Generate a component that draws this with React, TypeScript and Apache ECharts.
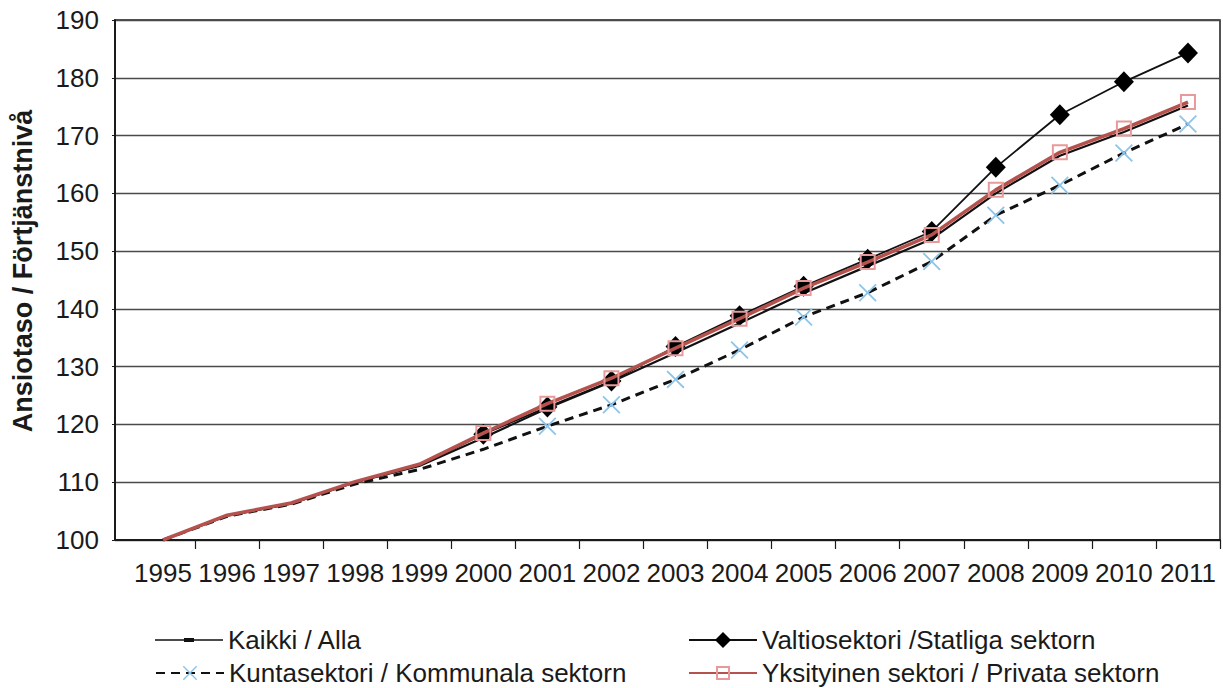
import React, { useEffect, useRef } from "react";
import * as echarts from "echarts";

const years = [1995, 1996, 1997, 1998, 1999, 2000, 2001, 2002, 2003, 2004, 2005, 2006, 2007, 2008, 2009, 2010, 2011];
const kaikki = [100, 104.2, 106.3, 110.0, 112.8, 117.7, 122.8, 127.4, 132.4, 137.5, 142.7, 147.4, 152.1, 160.0, 166.5, 170.6, 175.2];
const valtio = [100, 104.2, 106.3, 110.0, 112.9, 118.3, 123.0, 127.5, 133.5, 138.8, 143.9, 148.6, 153.4, 164.5, 173.6, 179.3, 184.3];
const kunta = [100, 104.1, 106.2, 109.7, 112.2, 115.7, 119.7, 123.4, 127.8, 132.9, 138.6, 142.8, 148.2, 156.2, 161.4, 167.0, 172.0];
const yksityinen = [100, 104.3, 106.4, 110.1, 113.1, 118.5, 123.6, 128.0, 133.2, 138.3, 143.6, 148.1, 152.8, 160.6, 167.1, 171.2, 175.8];
const yTicks = [100, 110, 120, 130, 140, 150, 160, 170, 180, 190];

const names = {
  kaikki: "Kaikki / Alla",
  valtio: "Valtiosektori /Statliga sektorn",
  kunta: "Kuntasektori / Kommunala sektorn",
  yks: "Yksityinen sektori / Privata sektorn",
};
const yTitle = "Ansiotaso / Förtjänstnivå";
const FONT = "'Liberation Sans', Arial, Helvetica, sans-serif";
const CROSS = "path://M0,7L7,0L50,43L93,0L100,7L57,50L100,93L93,100L50,57L7,100L0,93L43,50Z";
const KAIKKI_ICON = "path://M0,1.2L68,1.2L68,2.8L0,2.8ZM29,0L39,0L39,4L29,4Z";

function build(vals: number[], firstMarked: number) {
  return vals.map((v, i) =>
    years[i] < firstMarked ? { value: [years[i], v], symbol: "none" } : { value: [years[i], v] }
  );
}

function legendAt(name: string, left: number, top: number, itemHeight: number, icon?: string) {
  return {
    data: [icon ? { name, icon } : name],
    orient: "horizontal",
    left,
    top,
    itemWidth: 68,
    itemHeight,
    padding: 0,
    textStyle: { fontSize: 26, lineHeight: 26, fontFamily: FONT, color: "#1a1a1a" },
  };
}

export default function App() {
  const ref = useRef<HTMLDivElement>(null);
  useEffect(() => {
    if (!ref.current) return;
    const chart = echarts.init(ref.current, null, { renderer: "svg" });
    const tickVals = years.slice(1).map((y) => y - 0.5).concat([2011.5]);
    chart.setOption({
      animation: false,
      backgroundColor: "#ffffff",
      grid: {
        left: 115,
        right: 3,
        top: 20,
        bottom: 148,
        show: true,
        borderColor: "#1a1a1a",
        borderWidth: 1.5,
      },
      xAxis: {
        type: "value",
        min: 1994.25,
        max: 2011.5,
        splitLine: { show: false },
        axisLine: { show: true, lineStyle: { color: "#1a1a1a", width: 2 } },
        axisTick: {
          show: true,
          length: 9,
          customValues: tickVals,
          lineStyle: { color: "#1a1a1a", width: 1.2 },
        },
        axisLabel: {
          customValues: years,
          formatter: (v: number) => String(Math.round(v)),
          fontSize: 26,
          fontFamily: FONT,
          color: "#1a1a1a",
          margin: 20,
        },
      },
      yAxis: {
        type: "value",
        min: yTicks[0],
        max: yTicks[yTicks.length - 1],
        interval: 10,
        axisLine: { show: true, lineStyle: { color: "#1a1a1a", width: 2 } },
        axisTick: { show: true, length: 3, lineStyle: { color: "#1a1a1a" } },
        axisLabel: { fontSize: 26, fontFamily: FONT, color: "#1a1a1a", margin: 16 },
        splitLine: { show: true, lineStyle: { color: "#4a4a4a", width: 1.4 } },
      },
      legend: [
        legendAt(names.kaikki, 155, 627, 4, KAIKKI_ICON),
        legendAt(names.kunta, 155, 660, 18),
        legendAt(names.valtio, 688, 627, 20),
        legendAt(names.yks, 688, 660, 15),
      ],
      graphic: [
        {
          type: "text",
          x: 23,
          y: 271,
          rotation: Math.PI / 2,
          style: {
            text: yTitle,
            font: `bold 27px ${FONT}`,
            fill: "#1a1a1a",
            align: "center",
            verticalAlign: "middle",
          },
        },
      ],
      series: [
        {
          name: names.kunta,
          type: "line",
          data: build(kunta, 2001),
          symbol: CROSS,
          symbolSize: 18,
          itemStyle: { color: "#8cc4ea" },
          lineStyle: { color: "#111111", width: 3, type: [9, 6] },
          z: 2,
        },
        {
          name: names.kaikki,
          type: "line",
          data: years.map((y, i) => [y, kaikki[i]]),
          symbol: "rect",
          symbolSize: [10, 4],
          showSymbol: false,
          itemStyle: { color: "#111111" },
          lineStyle: { color: "#111111", width: 2.2 },
          z: 3,
        },
        {
          name: names.valtio,
          type: "line",
          data: build(valtio, 2000),
          symbol: "diamond",
          symbolSize: [20, 21],
          itemStyle: { color: "#000000" },
          lineStyle: { color: "#111111", width: 1.8 },
          z: 4,
        },
        {
          name: names.yks,
          type: "line",
          data: build(yksityinen, 2000),
          symbol: "rect",
          symbolSize: 14,
          itemStyle: { color: "rgba(255,255,255,0)", borderColor: "#e89a9a", borderWidth: 2 },
          lineStyle: { color: "#b5524e", width: 3.5 },
          z: 5,
        },
      ],
    });
    return () => chart.dispose();
  }, []);
  return (
    <div
      ref={ref}
      style={{ position: "fixed", left: 0, top: 0, width: 1223, height: 688 }}
    />
  );
}
